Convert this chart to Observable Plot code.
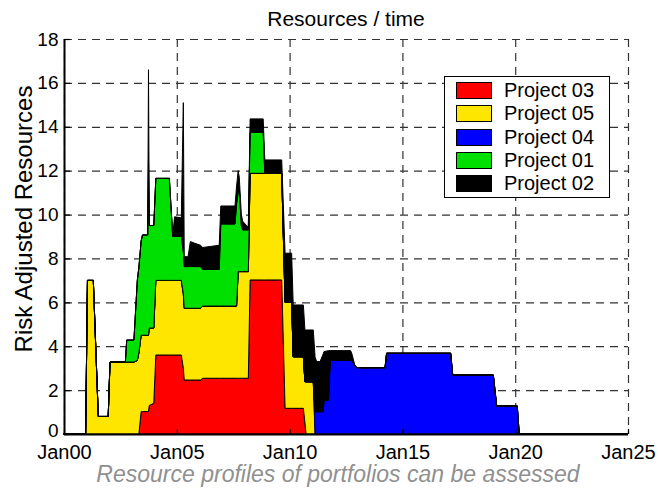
<!DOCTYPE html>
<html><head><meta charset="utf-8">
<script src="https://cdn.jsdelivr.net/npm/d3@7"></script>
<script src="https://cdn.jsdelivr.net/npm/@observablehq/plot@0.6"></script>
<style>
body{margin:0;background:#fff;font-family:"Liberation Sans",Arial,Helvetica,sans-serif;}
#wrap{position:relative;width:658px;height:491px;overflow:hidden;background:#fff;}
#title{position:absolute;left:64px;width:564px;top:8px;text-align:center;font-size:21px;line-height:21px;color:#000;}
#chart{position:absolute;left:0;top:30px;}
#ylabel{position:absolute;left:24px;top:219px;transform:translate(-50%,-50%) rotate(-90deg);white-space:nowrap;font-size:24px;line-height:24px;color:#000;}
#caption{position:absolute;left:0;width:658px;top:463px;text-align:center;padding-left:18px;box-sizing:border-box;font-size:23px;line-height:22px;font-style:italic;color:#909090;}
#legend{position:absolute;left:444px;top:76px;width:166px;height:122px;box-sizing:border-box;border:1.5px solid #000;background:#fff;padding-top:2px;}
.item{display:flex;align-items:center;height:23.33px;font-size:20px;color:#000;white-space:nowrap;}
.sw{display:inline-block;width:36px;height:17px;box-sizing:border-box;border:1px solid #000;margin-left:11px;margin-right:12px;}
</style></head>
<body>
<div id="wrap">
  <div id="title">Resources / time</div>
  <div id="chart"></div>
  <div id="ylabel">Risk Adjusted Resources</div>
  <div id="legend"></div>
  <div id="caption">Resource profiles of portfolios can be assessed</div>
</div>
<script>
// time in years since Jan 2000
const years = [0, 0.96, 1.04, 1.30, 1.52, 1.96, 2.04, 2.72, 2.78, 3.10,
  3.25, 3.32, 3.42, 3.48, 3.71, 3.745, 3.78, 3.98, 4.07, 4.67,
  4.82, 4.90, 5.20, 5.29, 5.33, 5.50, 5.60, 5.80, 6.05, 6.15,
  6.88, 6.95, 7.58, 7.65, 7.72, 7.77, 7.86, 7.92, 8.17, 8.25,
  8.83, 8.90, 9.65, 9.80, 10.09, 10.16, 10.61, 10.68, 10.73, 11.05,
  11.13, 11.20, 11.35, 11.49, 11.52, 11.72, 11.80, 12.70, 12.75, 12.90,
  13.00, 14.23, 14.30, 17.14, 17.23, 19.03, 19.18, 20.09, 20.18, 25];

const project03 = [0, 0, 0, 0, 0, 0, 0, 0, 0, 0,
  0, 0, 1.02, 1.02, 1.02, 1.02, 1.3, 1.4, 3.6, 3.6,
  3.6, 3.6, 3.6, 3.0, 2.46, 2.46, 2.46, 2.46, 2.46, 2.54,
  2.54, 2.54, 2.54, 2.54, 2.54, 2.54, 2.54, 2.54, 2.54, 7.02,
  7.02, 7.02, 7.02, 1.17, 1.17, 1.17, 1.17, 0.5, 0, 0,
  0, 0, 0, 0, 0, 0, 0, 0, 0, 0,
  0, 0, 0, 0, 0, 0, 0, 0, 0, 0];

const project05 = [0, 0, 7.0, 7.0, 0.8, 0.8, 3.28, 3.28, 3.28, 3.28,
  3.35, 3.7, 3.48, 3.48, 3.48, 3.48, 3.53, 3.43, 3.4, 3.4,
  3.4, 3.4, 3.4, 3.4, 3.27, 3.27, 3.27, 3.27, 3.27, 3.29,
  3.29, 3.29, 3.29, 3.29, 4.86, 4.86, 4.86, 4.86, 4.86, 4.86,
  4.86, 4.86, 4.86, 4.83, 4.83, 2.35, 2.35, 1.88, 2.38, 2.38,
  0, 0, 0, 0, 0, 0, 0, 0, 0, 0,
  0, 0, 0, 0, 0, 0, 0, 0, 0, 0];

const project04 = [0, 0, 0, 0, 0, 0, 0, 0, 0, 0,
  0, 0, 0, 0, 0, 0, 0, 0, 0, 0,
  0, 0, 0, 0, 0, 0, 0, 0, 0, 0,
  0, 0, 0, 0, 0, 0, 0, 0, 0, 0,
  0, 0, 0, 0, 0, 0, 0, 0, 0, 0,
  1.02, 1.02, 1.02, 1.02, 1.55, 1.55, 3.37, 3.37, 3.37, 3.1,
  3.02, 3.02, 3.68, 3.68, 2.69, 2.69, 1.28, 1.28, 0, 0];

const project01 = [0, 0, 0, 0, 0, 0, 0, 0, 1.0, 1.0,
  3.65, 3.9, 4.3, 4.57, 4.57, 8.0, 4.67, 4.67, 4.65, 4.65,
  2.0, 2.0, 2.0, 1.9, 1.9, 1.9, 1.9, 1.9, 1.9, 1.67,
  1.67, 3.74, 3.74, 4.67, 3.6, 3.8, 2.1, 1.9, 1.9, 1.87,
  1.87, 0, 0, 0, 0, 0, 0, 0, 0, 0,
  0, 0, 0, 0, 0, 0, 0, 0, 0, 0,
  0, 0, 0, 0, 0, 0, 0, 0, 0, 0];

const project02 = [0, 0, 0, 0, 0, 0, 0, 0, 0, 0,
  0, 0, 0, 0, 0, 4.1, 0, 0, 0, 0,
  0, 0.9, 0.85, 6.8, 0.45, 0.45, 1.14, 1.06, 0.97, 1.0,
  1.1, 0.82, 0.82, 0.8, 1.0, 0.5, 0.5, 0.4, 0.1, 0.61,
  0.61, 0.61, 0.61, 2.24, 2.24, 2.36, 2.36, 2.36, 2.36, 2.36,
  2.48, 2.28, 2.28, 2.63, 2.2, 2.25, 0.43, 0.43, 0.33, 0,
  0, 0, 0, 0, 0, 0, 0, 0, 0, 0];

// stacking order (bottom to top) = legend order
const seriesNames = ["Project 03", "Project 05", "Project 04", "Project 01", "Project 02"];
const seriesColors = ["#ff0000", "#ffe600", "#0000ff", "#00e000", "#000000"];
const xTicks = [0, 5, 10, 15, 20, 25];
const xTickLabels = ["Jan00", "Jan05", "Jan10", "Jan15", "Jan20", "Jan25"];
const yTicks = [0, 2, 4, 6, 8, 10, 12, 14, 16, 18];

const seriesValues = [project03, project05, project04, project01, project02];
const rows = [];
seriesNames.forEach((name, i) => {
  years.forEach((t, j) => rows.push({t, series: name, value: seriesValues[i][j]}));
});

const font = "'Liberation Sans', Arial, sans-serif";
const chart = Plot.plot({
  width: 658,
  height: 432,
  marginTop: 9,
  marginBottom: 28,
  marginLeft: 64,
  marginRight: 30,
  style: {fontSize: "20px", fontFamily: font, color: "#000", background: "transparent", overflow: "visible"},
  x: {domain: [0, 25], ticks: xTicks, tickFormat: d => xTickLabels[xTicks.indexOf(d)], tickSize: 0, tickPadding: 10, label: null},
  y: {domain: [0, 18], axis: null},
  color: {domain: seriesNames, range: seriesColors},
  marks: [
    Plot.ruleX(xTicks, {stroke: "#333", strokeWidth: 1.2, strokeDasharray: "8,6"}),
    Plot.ruleY(yTicks, {stroke: "#333", strokeWidth: 1.2, strokeDasharray: "8,6"}),
    Plot.areaY(rows, {x: "t", y: "value", z: "series", fill: "series", stroke: "#000", strokeWidth: 1, strokeLinejoin: "miter"}),
    Plot.ruleX(xTicks, {stroke: "#000", strokeWidth: 1.2, insetTop: 390}),
    Plot.ruleY(yTicks, {stroke: "#000", strokeWidth: 1.2, insetRight: 558}),
    Plot.ruleX([0], {stroke: "#000", strokeWidth: 2}),
    Plot.ruleY([0], {stroke: "#000", strokeWidth: 2}),
    // y tick labels (the lowest one nudged up to clear "Jan00")
    Plot.text(yTicks.slice(1), {y: d => d, text: d => String(d), frameAnchor: "left", textAnchor: "end", dx: -6, fontSize: 19, fill: "#000"}),
    Plot.text(yTicks.slice(0, 1), {y: d => d, text: d => String(d), frameAnchor: "left", textAnchor: "end", dx: -6, dy: -4, fontSize: 19, fill: "#000"})
  ]
});
document.getElementById("chart").appendChild(chart);

const legend = document.getElementById("legend");
seriesNames.forEach((name, i) => {
  const row = document.createElement("div");
  row.className = "item";
  const sw = document.createElement("span");
  sw.className = "sw";
  sw.style.background = seriesColors[i];
  const label = document.createElement("span");
  label.textContent = name;
  row.appendChild(sw);
  row.appendChild(label);
  legend.appendChild(row);
});
</script>
</body></html>
